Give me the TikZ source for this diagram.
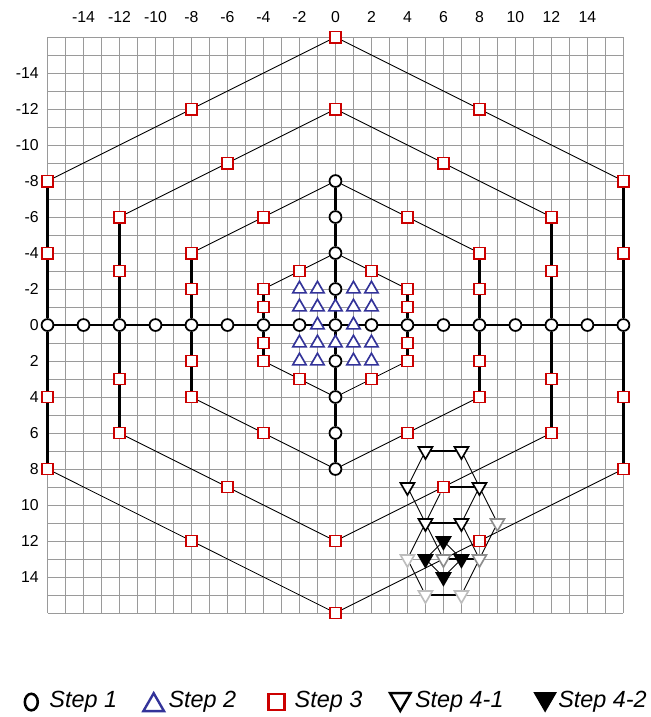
\documentclass[tikz,border=0pt]{standalone}
\usepackage{fontspec}
\setmainfont{Liberation Sans}
\usepackage{tikz}
\usetikzlibrary{shapes.geometric,positioning}
\definecolor{hxGrid}{HTML}{9A9A9A}
\definecolor{hxRed}{HTML}{CC0000}
\definecolor{hxBlue}{HTML}{333399}
\definecolor{hxGray}{HTML}{8C8C8C}
\definecolor{hxLight}{HTML}{BDBDBD}
\pgfdeclarelayer{grid}
\pgfdeclarelayer{edges}
\pgfsetlayers{grid,edges,main}

\begin{document}
\begin{tikzpicture}[
    x=0.5cm,y=-0.5cm,
    gridline/.style={draw=hxGrid,line width=0.75pt},
    thinedge/.style={draw=black,line width=0.7pt},
    thickedge/.style={draw=black,line width=2pt},
    tick/.style={font=\fontsize{12.5}{14}\selectfont,inner sep=1pt},
    stepone/.style={circle,draw=black,line width=1.4pt,fill=white,minimum size=0.33cm,inner sep=0pt},
    steptwo/.style={regular polygon,regular polygon sides=3,draw=hxBlue,line width=1.3pt,fill=white,
                    minimum size=0.43cm,inner sep=0pt},
    stepthree/.style={rectangle,draw=hxRed,line width=1.4pt,fill=white,minimum size=0.31cm,inner sep=0pt},
    stepfour/.style={regular polygon,regular polygon sides=3,shape border rotate=180,draw=black,
                     line width=1.3pt,fill=white,minimum size=0.45cm,inner sep=0pt},
    stepfive/.style={stepfour,fill=black},
    legtext/.style={font=\fontsize{18.5}{21}\selectfont\itshape,inner sep=0pt}
  ]
    \useasboundingbox (-18.64,-18.06) rectangle (17.53,21.78);

    % grid
    \begin{pgfonlayer}{grid}
      \foreach \i in {-16,...,16} {
        \draw[gridline] (\i,-16) -- (\i,16);
        \draw[gridline] (-16,\i) -- (16,\i);
      }
    \end{pgfonlayer}

    % axis numbers
    \foreach \x in {-14,-12,...,14} \node[tick] (xt\x) at (\x,-17.1) {\x};
    \foreach \y in {-14,-12,...,14} \node[tick,anchor=east] (yt\y) at (-16.4,\y) {\y};

    % step 1
    \foreach \x in {-16,-14,...,16} \node[stepone] (h\x) at (\x,0) {};
    \foreach \y in {-8,-6,-4,-2,2,4,6,8} \node[stepone] (v\y) at (0,\y) {};

    % step 2
    \foreach \x/\y in {-2/-2,-1/-2,1/-2,2/-2, -2/-1,-1/-1,0/-1,1/-1,2/-1, -1/0,1/0,
                       -2/1,-1/1,0/1,1/1,2/1, -2/2,-1/2,1/2,2/2}
      \node[steptwo] (t\x\y) at (\x,\y) {};

    % step 3
    \foreach \k in {1,...,4}
      \foreach \n/\dx/\dy in {a/2/-3,b/4/-2,c/4/-1,d/4/1,e/4/2,f/2/3,g/-2/3,h/-4/2,i/-4/1,j/-4/-1,k/-4/-2,l/-2/-3}
        \node[stepthree] (s\k-\n) at (\k*\dx,\k*\dy) {};
    \node[stepthree] (s3top) at (0,-12) {};
    \node[stepthree] (s3bot) at (0,12) {};
    \node[stepthree] (s4top) at (0,-16) {};
    \node[stepthree] (s4bot) at (0,16) {};

    % step 4-1
    \node[stepfour] (r1) at (5,7) {};
    \node[stepfour] (r2) at (7,7) {};
    \node[stepfour] (r3) at (4,9) {};
    \node[stepfour] (r4) at (8,9) {};
    \node[stepfour] (r5) at (5,11) {};
    \node[stepfour] (r6) at (7,11) {};
    \node[stepfour,draw=hxGray] (g1) at (9,11) {};
    \node[stepfour,draw=hxGray] (g2) at (6,13) {};
    \node[stepfour,draw=hxGray] (g3) at (8,13) {};
    \node[stepfour,draw=hxLight] (l1) at (4,13) {};
    \node[stepfour,draw=hxLight] (l2) at (5,15) {};
    \node[stepfour,draw=hxLight] (l3) at (7,15) {};

    % step 4-2
    \node[stepfive] (d1) at (6,12) {};
    \node[stepfive] (d2) at (7,13) {};
    \node[stepfive] (d3) at (6,14) {};
    \node[stepfive] (d4) at (5,13) {};

    \begin{pgfonlayer}{edges}
      \draw[thickedge] (h-16) -- (h-14) -- (h-12) -- (h-10) -- (h-8) -- (h-6) -- (h-4) -- (h-2) -- (h0)
                       -- (h2) -- (h4) -- (h6) -- (h8) -- (h10) -- (h12) -- (h14) -- (h16);
      \draw[thickedge] (v-8) -- (v-6) -- (v-4) -- (v-2) -- (h0) -- (v2) -- (v4) -- (v6) -- (v8);
      \foreach \k/\t/\b/\l/\r in {1/v-4/v4/h-4/h4, 2/v-8/v8/h-8/h8, 3/s3top/s3bot/h-12/h12, 4/s4top/s4bot/h-16/h16} {
        \draw[thinedge] (\t) -- (s\k-a) -- (s\k-b);
        \draw[thickedge] (s\k-b) -- (s\k-c) -- (\r) -- (s\k-d) -- (s\k-e);
        \draw[thinedge] (s\k-e) -- (s\k-f) -- (\b) -- (s\k-g) -- (s\k-h);
        \draw[thickedge] (s\k-h) -- (s\k-i) -- (\l) -- (s\k-j) -- (s\k-k);
        \draw[thinedge] (s\k-k) -- (s\k-l) -- (\t);
      }
      \draw[thickedge] (r1) -- (r2);
      \draw[thinedge] (r2) -- (r4) -- (r6);
      \draw[thinedge] (r5) -- (r3) -- (r1);
      \draw[thickedge] (r5) -- (r6);
      \draw[thickedge] (s3-f) -- (r4);
      \draw[thinedge] (r4) -- (g1) -- (g3);
      \draw[thickedge] (g2) -- (g3);
      \draw[thinedge] (g2) -- (r5) -- (s3-f);
      \draw[thinedge] (r6) -- (g3) -- (l3);
      \draw[thickedge] (l2) -- (l3);
      \draw[thinedge] (l2) -- (l1) -- (r5);
      \draw[thinedge] (d1) -- (d2) -- (d3) -- (d4) -- (d1);
    \end{pgfonlayer}

    % legend
    \node[ellipse,draw=black,line width=2pt,minimum width=0.36cm,minimum height=0.46cm,inner sep=0pt]
      (k1) at (-16.9,20.95) {};
    \node[legtext,right=8pt of k1] (k1t) {Step 1};
    \node[steptwo,minimum size=0.66cm,line width=1.9pt] (k2) at (-10.1,21.12) {};
    \node[legtext,right=5pt of k2.east|-k1t.west] (k2t) {Step 2};
    \node[stepthree,minimum size=0.44cm,line width=1.9pt] (k3) at (-3.28,20.95) {};
    \node[legtext,right=7pt of k3] (k3t) {Step 3};
    \node[stepfour,minimum size=0.66cm,line width=1.9pt] (k4) at (3.6,20.78) {};
    \node[legtext,right=5pt of k4.east|-k1t.west] (k4t) {Step 4-1};
    \node[stepfive,minimum size=0.66cm] (k5) at (11.65,20.78) {};
    \node[legtext,right=4pt of k5.east|-k1t.west] (k5t) {Step 4-2};
  \end{tikzpicture}
\end{document}
